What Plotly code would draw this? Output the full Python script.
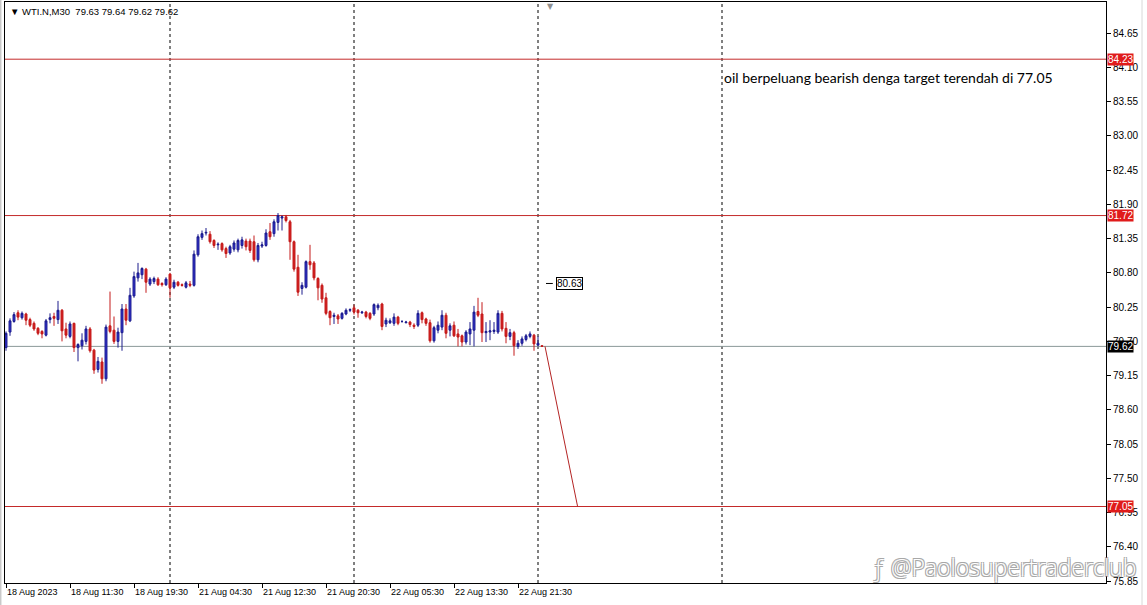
import plotly.graph_objects as go

# ---------------- data ----------------
bar_index = list(range(135))
opens = [79.60, 79.85, 80.02, 80.16, 80.08, 80.14, 80.05, 79.99, 79.91, 79.86,
         79.80, 80.05, 80.10, 80.05, 80.20, 79.90, 79.78, 79.99, 79.60, 79.63,
         79.70, 79.90, 79.56, 79.25, 79.37, 79.10, 79.95, 79.88, 79.70, 79.84,
         80.22, 80.03, 80.43, 80.72, 80.77, 80.86, 80.62, 80.66, 80.70, 80.63,
         80.61, 80.78, 80.57, 80.65, 80.61, 80.57, 80.62, 80.60, 81.09, 81.37,
         81.44, 81.42, 81.32, 81.25, 81.27, 81.19, 81.12, 81.18, 81.17, 81.24,
         81.31, 81.31, 81.30, 81.01, 81.23, 81.24, 81.46, 81.43, 81.61, 81.68,
         81.70, 81.62, 81.30, 80.89, 80.55, 80.57, 80.98, 80.96, 80.71, 80.60,
         80.40, 80.18, 80.10, 80.11, 80.07, 80.14, 80.20, 80.24, 80.20, 80.16,
         80.17, 80.15, 80.14, 80.24, 80.30, 79.98, 80.00, 79.99, 80.09, 80.02,
         80.00, 80.01, 79.96, 79.96, 80.16, 80.06, 80.00, 79.71, 79.88, 79.93,
         80.12, 79.88, 79.96, 79.82, 79.79, 79.69, 79.82, 79.88, 80.18, 80.14,
         79.84, 79.85, 79.86, 79.85, 80.15, 79.91, 79.78, 79.84, 79.62, 79.67,
         79.73, 79.78, 79.80, 79.64, 79.63]
highs = [79.86, 80.07, 80.17, 80.20, 80.18, 80.16, 80.08, 80.02, 79.93, 79.88,
         80.06, 80.15, 80.16, 80.35, 80.22, 80.00, 80.02, 80.00, 79.67, 79.83,
         79.95, 79.93, 79.58, 79.45, 79.44, 79.97, 80.50, 80.10, 79.92, 80.30,
         80.30, 80.56, 80.82, 80.96, 80.89, 80.88, 80.73, 80.74, 80.73, 80.65,
         80.73, 80.80, 80.69, 80.67, 80.63, 80.67, 80.67, 81.16, 81.42, 81.48,
         81.52, 81.47, 81.34, 81.29, 81.29, 81.22, 81.25, 81.32, 81.35, 81.38,
         81.35, 81.35, 81.40, 81.28, 81.30, 81.50, 81.60, 81.66, 81.76, 81.72,
         81.73, 81.65, 81.32, 81.09, 80.65, 81.00, 81.25, 80.99, 80.73, 80.63,
         80.48, 80.20, 80.16, 80.14, 80.17, 80.23, 80.23, 80.29, 80.22, 80.19,
         80.19, 80.17, 80.31, 80.31, 80.32, 80.08, 80.07, 80.15, 80.11, 80.04,
         80.03, 80.03, 79.99, 80.20, 80.18, 80.08, 80.05, 79.95, 80.02, 80.20,
         80.16, 79.99, 80.02, 79.90, 79.81, 79.88, 80.01, 80.27, 80.40, 80.33,
         80.01, 80.04, 80.01, 80.20, 80.19, 80.01, 79.90, 79.87, 79.72, 79.78,
         79.82, 79.86, 79.82, 79.78, 79.64]
lows = [79.55, 79.79, 80.00, 80.04, 80.05, 79.96, 79.93, 79.87, 79.80, 79.75,
        79.78, 79.99, 79.95, 79.98, 79.70, 79.75, 79.75, 79.53, 79.38, 79.57,
        79.65, 79.52, 79.18, 79.20, 79.02, 79.06, 79.83, 79.66, 79.60, 79.55,
        79.96, 80.01, 80.40, 80.66, 80.70, 80.48, 80.59, 80.62, 80.59, 80.58,
        80.59, 80.40, 80.54, 80.58, 80.58, 80.55, 80.57, 80.58, 81.06, 81.33,
        81.40, 81.27, 81.20, 81.17, 81.14, 81.04, 81.09, 81.14, 81.13, 81.19,
        81.16, 81.12, 80.98, 80.97, 81.20, 81.22, 81.33, 81.38, 81.48, 81.48,
        81.61, 81.01, 80.82, 80.43, 80.45, 80.55, 80.85, 80.68, 80.36, 80.32,
        80.12, 79.96, 79.98, 79.98, 80.05, 80.12, 80.17, 80.13, 80.08, 80.14,
        80.07, 80.04, 80.11, 80.20, 79.88, 79.93, 79.98, 79.95, 79.96, 80.00,
        79.99, 79.93, 79.90, 79.93, 79.99, 79.95, 79.68, 79.68, 79.83, 79.88,
        79.75, 79.78, 79.77, 79.62, 79.62, 79.65, 79.64, 79.62, 80.09, 79.69,
        79.69, 79.72, 79.82, 79.82, 79.86, 79.67, 79.72, 79.47, 79.58, 79.63,
        79.70, 79.75, 79.55, 79.62, 79.62]
closes = [79.83, 80.03, 80.13, 80.09, 80.15, 80.04, 79.96, 79.90, 79.83, 79.82,
          80.03, 80.08, 80.07, 80.20, 79.87, 79.80, 79.98, 79.60, 79.65, 79.72,
          79.90, 79.55, 79.24, 79.38, 79.10, 79.93, 79.86, 79.70, 79.85, 80.22,
          80.04, 80.44, 80.74, 80.80, 80.87, 80.65, 80.70, 80.71, 80.61, 80.61,
          80.70, 80.56, 80.65, 80.60, 80.60, 80.64, 80.60, 81.10, 81.38, 81.43,
          81.45, 81.30, 81.24, 81.26, 81.17, 81.11, 81.22, 81.28, 81.32, 81.33,
          81.22, 81.16, 81.01, 81.24, 81.25, 81.44, 81.38, 81.62, 81.72, 81.70,
          81.64, 81.30, 80.86, 80.49, 80.60, 80.98, 80.93, 80.72, 80.56, 80.38,
          80.15, 80.08, 80.12, 80.06, 80.15, 80.20, 80.21, 80.17, 80.16, 80.17,
          80.10, 80.07, 80.29, 80.28, 79.94, 80.04, 80.03, 80.09, 79.99, 80.02,
          80.01, 79.97, 79.94, 80.15, 80.05, 79.99, 79.71, 79.92, 79.96, 80.12,
          79.83, 79.95, 79.79, 79.77, 79.69, 79.85, 79.90, 80.17, 80.12, 79.84,
          79.86, 79.87, 79.88, 80.15, 79.90, 79.78, 79.84, 79.63, 79.67, 79.74,
          79.79, 79.82, 79.66, 79.67, 79.62]

x_tick_bars = [0, 16, 32, 48, 64, 80, 96, 112, 128]
x_tick_labels = ["18 Aug 2023", "18 Aug 11:30", "18 Aug 19:30", "21 Aug 04:30",
                 "21 Aug 12:30", "21 Aug 20:30", "22 Aug 05:30", "22 Aug 13:30",
                 "22 Aug 21:30"]
y_tick_values = [75.85, 76.40, 76.95, 77.50, 78.05, 78.60, 79.15, 79.70, 80.25,
                 80.80, 81.35, 81.90, 82.45, 83.00, 83.55, 84.10, 84.65]
separator_bars = [41, 87, 133, 179]
level_prices = [84.23, 81.72, 77.05]
bid_price = 79.62
target_bars = [134.75, 142.9]
target_prices = [79.62, 77.05]
price_label_value = 80.63
price_label_bar = 137.5
header_text = "▼\u00a0WTI.N,M30\u00a0\u00a079.63\u00a079.64\u00a079.62\u00a079.62"
note_text = "oil berpeluang bearish denga target terendah di 77.05"
note_bar = 179
note_price = 83.94
watermark = "ƒ\u00a0@Paolosupertraderclub"

# ---------------- figure ----------------
fig = go.Figure()
fig.add_trace(go.Candlestick(
    x=bar_index, open=opens, high=highs, low=lows, close=closes,
    increasing=dict(line=dict(color="#1c1c8c", width=1), fillcolor="#2f2fd0"),
    decreasing=dict(line=dict(color="#c41a1a", width=1), fillcolor="#d42020"),
    hoverinfo="skip", showlegend=False,
))

# target (trend) line
fig.add_trace(go.Scatter(x=target_bars, y=target_prices, mode="lines",
                         line=dict(color="#b42424", width=1),
                         hoverinfo="skip", showlegend=False))

# small dash of the price label
fig.add_trace(go.Scatter(x=[price_label_bar - 2.5, price_label_bar - 0.8],
                         y=[price_label_value, price_label_value], mode="lines",
                         line=dict(color="black", width=1),
                         hoverinfo="skip", showlegend=False))

shapes = []
for b in separator_bars:
    shapes.append(dict(type="line", xref="x", yref="paper", x0=b, x1=b, y0=0, y1=1,
                       line=dict(color="black", width=1, dash="dot"), layer="below"))
for p in level_prices:
    shapes.append(dict(type="line", xref="paper", yref="y", x0=0, x1=1, y0=p, y1=p,
                       line=dict(color="#c42a2a", width=1), layer="below"))
shapes.append(dict(type="line", xref="paper", yref="y", x0=0, x1=1, y0=bid_price,
                   y1=bid_price, line=dict(color="#8a9898", width=1), layer="below"))
# window edges
shapes.append(dict(type="line", xref="paper", yref="paper", x0=1.0327, x1=1.0327,
                   y0=-0.04, y1=1.01, line=dict(color="#d8d8d8", width=1)))
shapes.append(dict(type="line", xref="paper", yref="paper", x0=-0.0038, x1=-0.0038,
                   y0=-0.04, y1=1.01, line=dict(color="#b0b0b0", width=1)))

annotations = []
for p in level_prices:
    annotations.append(dict(xref="paper", yref="y", x=1, y=p, xanchor="left",
                            yanchor="middle", xshift=1, text=f"{p:.2f}",
                            showarrow=False, bgcolor="#e01b1b", borderpad=0,
                            font=dict(family="Liberation Sans", size=10, color="white")))
annotations.append(dict(xref="paper", yref="y", x=1, y=bid_price, xanchor="left",
                        yanchor="middle", xshift=1, text=f"{bid_price:.2f}",
                        showarrow=False, bgcolor="black", borderpad=0,
                        font=dict(family="Liberation Sans", size=10, color="white")))
annotations.append(dict(xref="x", yref="y", x=price_label_bar, y=price_label_value,
                        xanchor="left", yanchor="middle", text=f"{price_label_value:.2f}",
                        showarrow=False, bgcolor="white", bordercolor="black",
                        borderwidth=1, borderpad=0,
                        font=dict(family="Liberation Sans", size=10, color="black")))
annotations.append(dict(xref="paper", yref="paper", x=0, y=1, xanchor="left",
                        yanchor="top", xshift=3, yshift=-2, text=header_text,
                        showarrow=False,
                        font=dict(family="Liberation Sans", size=9.5, color="black")))
annotations.append(dict(xref="x", yref="y", x=note_bar, y=note_price, xanchor="left",
                        yanchor="middle", xshift=0, text=note_text, showarrow=False,
                        font=dict(family="Lato", size=14, color="black")))
annotations.append(dict(xref="x", yref="paper", x=136, y=1, xanchor="center",
                        yanchor="top", yshift=2, text="▼", showarrow=False,
                        font=dict(family="DejaVu Sans", size=8, color="#909090")))
annotations.append(dict(xref="paper", yref="paper", x=1.029, y=0.027,
                        xanchor="right", yanchor="middle", text=watermark,
                        showarrow=False,
                        font=dict(family="Open Sans", size=23, color="white", weight=300,
                                  shadow="-1px -1px 0 #a8a8a8, 1px -1px 0 #a8a8a8, -1px 1px 0 #a8a8a8, 1px 1px 0 #a8a8a8")))

fig.update_layout(
    width=1147, height=605,
    margin=dict(l=5, r=41, t=2, b=22, autoexpand=False),
    paper_bgcolor="white", plot_bgcolor="white",
    shapes=shapes, annotations=annotations,
    hovermode=False,
    xaxis=dict(range=[-0.25, 275], showgrid=False, zeroline=False,
               showline=True, linecolor="black", linewidth=1, mirror=True,
               ticks="outside", ticklen=4, tickcolor="black",
               tickvals=x_tick_bars, ticktext=x_tick_labels, tickangle=0,
               ticklabelposition="outside right",
               tickfont=dict(family="Liberation Sans", size=9, color="black"),
               rangeslider=dict(visible=False), fixedrange=True),
    yaxis=dict(side="right", range=[75.822, 85.148], showgrid=False, zeroline=False,
               showline=True, linecolor="black", linewidth=1, mirror=True,
               ticks="outside", ticklen=4, tickcolor="black",
               tickvals=y_tick_values, ticktext=[f"{v:.2f}" for v in y_tick_values],
               tickfont=dict(family="Liberation Sans", size=10, color="black"),
               fixedrange=True),
)

fig.write_html("out.html", config={"displayModeBar": False},
               post_script="document.body.style.margin='0';document.body.style.overflow='hidden';")
